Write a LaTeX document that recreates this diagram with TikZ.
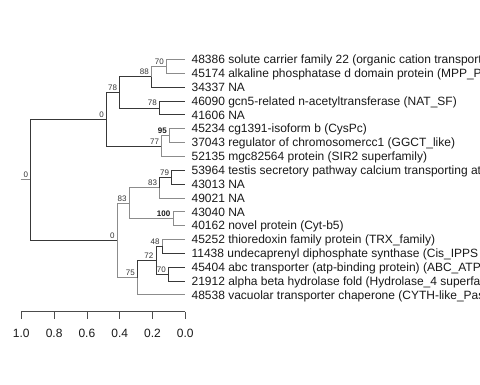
\documentclass[tikz,border=0pt]{standalone}
\usepackage{fontspec}
\setmainfont{Liberation Sans}
\begin{document}
\begin{tikzpicture}[x=1bp,y=-1bp,
  dk/.style={draw=black!78, line width=0.8bp},
  gy/.style={draw=black!45, line width=0.8bp},
  leaflab/.style={anchor=base west, inner sep=0pt, text=black!90, font=\fontsize{12bp}{14bp}\selectfont},
  boot/.style={anchor=base east, inner sep=0pt, text=black!80, font=\fontsize{8bp}{9bp}\selectfont},
  bootb/.style={anchor=base east, inner sep=0pt, text=black!90, font=\fontsize{8bp}{9bp}\selectfont\bfseries},
  axisline/.style={draw=black!70, line width=0.8bp},
  axislab/.style={anchor=base, inner sep=0pt, text=black!90, font=\fontsize{12bp}{14bp}\selectfont}]
\clip (0,0) rectangle (480,384);
% internal nodes
\coordinate (Rs) at (20.7,179.8);
\coordinate (R) at (30.7,179.8);
\coordinate (A) at (106.5,119.2);
\coordinate (B) at (119.8,92.3);
\coordinate (C) at (151.5,76.7);
\coordinate (D) at (166.5,66.3);
\coordinate (E) at (159.5,107.9);
\coordinate (F) at (161.7,146.0);
\coordinate (G) at (169.5,135.6);
\coordinate (H) at (117.3,240.3);
\coordinate (I) at (129.3,203.1);
\coordinate (K) at (159.7,187.5);
\coordinate (M) at (171.7,177.1);
\coordinate (L) at (173.0,218.7);
\coordinate (J) at (137.5,277.5);
\coordinate (N) at (156.0,260.2);
\coordinate (O) at (162.3,246.4);
\coordinate (P) at (168.5,274.1);
% leaf tips
\coordinate (t1) at (185.3,59.4);
\coordinate (t2) at (185.3,73.25);
\coordinate (t3) at (185.3,87.1);
\coordinate (t4) at (185.3,100.95);
\coordinate (t5) at (185.3,114.8);
\coordinate (t6) at (185.3,128.65);
\coordinate (t7) at (185.3,142.5);
\coordinate (t8) at (185.3,156.35);
\coordinate (t9) at (185.3,170.2);
\coordinate (t10) at (185.3,184.05);
\coordinate (t11) at (185.3,197.9);
\coordinate (t12) at (185.3,211.75);
\coordinate (t13) at (185.3,225.6);
\coordinate (t14) at (185.3,239.45);
\coordinate (t15) at (185.3,253.3);
\coordinate (t16) at (185.3,267.15);
\coordinate (t17) at (185.3,281.0);
\coordinate (t18) at (185.3,294.85);
% leaf labels
\node[leaflab] (l1) at (191.4,63.7) {48386 solute carrier family 22 (organic cation transport};
\node[leaflab] (l2) at (191.4,77.55) {45174 alkaline phosphatase d domain protein (MPP\_P};
\node[leaflab] (l3) at (191.4,91.4) {34337 NA};
\node[leaflab] (l4) at (191.4,105.25) {46090 gcn5-related n-acetyltransferase (NAT\_SF)};
\node[leaflab] (l5) at (191.4,119.1) {41606 NA};
\node[leaflab] (l6) at (191.4,132.95) {45234 cg1391-isoform b (CysPc)};
\node[leaflab] (l7) at (191.4,146.8) {37043 regulator of chromosomercc1 (GGCT\_like)};
\node[leaflab] (l8) at (191.4,160.65) {52135 mgc82564 protein (SIR2 superfamily)};
\node[leaflab] (l9) at (191.4,174.5) {53964 testis secretory pathway calcium transporting at};
\node[leaflab] (l10) at (191.4,188.35) {43013 NA};
\node[leaflab] (l11) at (191.4,202.2) {49021 NA};
\node[leaflab] (l12) at (191.4,216.05) {43040 NA};
\node[leaflab] (l13) at (191.4,229.9) {40162 novel protein (Cyt-b5)};
\node[leaflab] (l14) at (191.4,243.75) {45252 thioredoxin family protein (TRX\_family)};
\node[leaflab] (l15) at (191.4,257.6) {11438 undecaprenyl diphosphate synthase (Cis\_IPPS};
\node[leaflab] (l16) at (191.4,271.45) {45404 abc transporter (atp-binding protein) (ABC\_ATP};
\node[leaflab] (l17) at (191.4,285.3) {21912 alpha beta hydrolase fold (Hydrolase\_4 superfa};
\node[leaflab] (l18) at (191.4,299.15) {48538 vacuolar transporter chaperone (CYTH-like\_Pas};
% edges
\draw[gy] (Rs) -- (R);
\draw[dk] (R) |- (A);
\draw[dk] (R) |- (H);
\draw[dk] (A) |- (B);
\draw[dk] (A) |- (F);
\draw[dk] (B) |- (C);
\draw[dk] (B) |- (E);
\draw[gy] (C) |- (D);
\draw[dk] (C) |- (t3);
\draw[gy] (D) |- (t1);
\draw[gy] (D) |- (t2);
\draw[dk] (E) |- (t4);
\draw[dk] (E) |- (t5);
\draw[gy] (F) |- (G);
\draw[gy] (F) |- (t8);
\draw[gy] (G) |- (t6);
\draw[gy] (G) |- (t7);
\draw[gy] (H) |- (I);
\draw[gy] (H) |- (J);
\draw[gy] (I) |- (K);
\draw[gy] (I) |- (L);
\draw[dk] (K) |- (M);
\draw[gy] (K) |- (t11);
\draw[dk] (M) |- (t9);
\draw[dk] (M) |- (t10);
\draw[gy] (L) |- (t12);
\draw[gy] (L) |- (t13);
\draw[dk] (J) |- (N);
\draw[gy] (J) |- (t18);
\draw[dk] (N) |- (O);
\draw[dk] (N) |- (P);
\draw[gy] (O) |- (t14);
\draw[dk] (O) |- (t15);
\draw[dk] (P) |- (t16);
\draw[dk] (P) |- (t17);
% support values
\node[boot] (bR) at ([xshift=-2.5bp,yshift=2bp]R) {0};
\node[boot] (bA) at ([xshift=-2.5bp,yshift=2bp]A) {0};
\node[boot] (bB) at ([xshift=-2.5bp,yshift=2bp]B) {78};
\node[boot] (bC) at ([xshift=-2.5bp,yshift=2bp]C) {88};
\node[boot] (bD) at ([xshift=-2.5bp,yshift=2bp]D) {70};
\node[boot] (bE) at ([xshift=-2.5bp,yshift=2bp]E) {78};
\node[boot] (bF) at ([xshift=-2.5bp,yshift=2bp]F) {77};
\node[bootb] (bG) at ([xshift=-2.5bp,yshift=2bp]G) {95};
\node[boot] (bH) at ([xshift=-2.5bp,yshift=2bp]H) {0};
\node[boot] (bI) at ([xshift=-2.5bp,yshift=2bp]I) {83};
\node[boot] (bK) at ([xshift=-2.5bp,yshift=2bp]K) {83};
\node[boot] (bM) at ([xshift=-2.5bp,yshift=2bp]M) {79};
\node[bootb] (bL) at ([xshift=-2.5bp,yshift=2bp]L) {100};
\node[boot] (bJ) at ([xshift=-2.5bp,yshift=2bp]J) {75};
\node[boot] (bN) at ([xshift=-2.5bp,yshift=2bp]N) {72};
\node[boot] (bO) at ([xshift=-2.5bp,yshift=2bp]O) {48};
\node[boot] (bP) at ([xshift=-2.5bp,yshift=2bp]P) {70};
% axis
\draw[axisline] (21.3,311.7) -- (185.3,311.7);
\foreach \xx/\lab in {21.3/1.0, 54.1/0.8, 86.9/0.6, 119.7/0.4, 152.5/0.2, 185.3/0.0} {
  \draw[axisline] (\xx,311.7) -- (\xx,319.3);
  \node[axislab] at (\xx,337.3) {\lab};
}
\end{tikzpicture}
\end{document}
